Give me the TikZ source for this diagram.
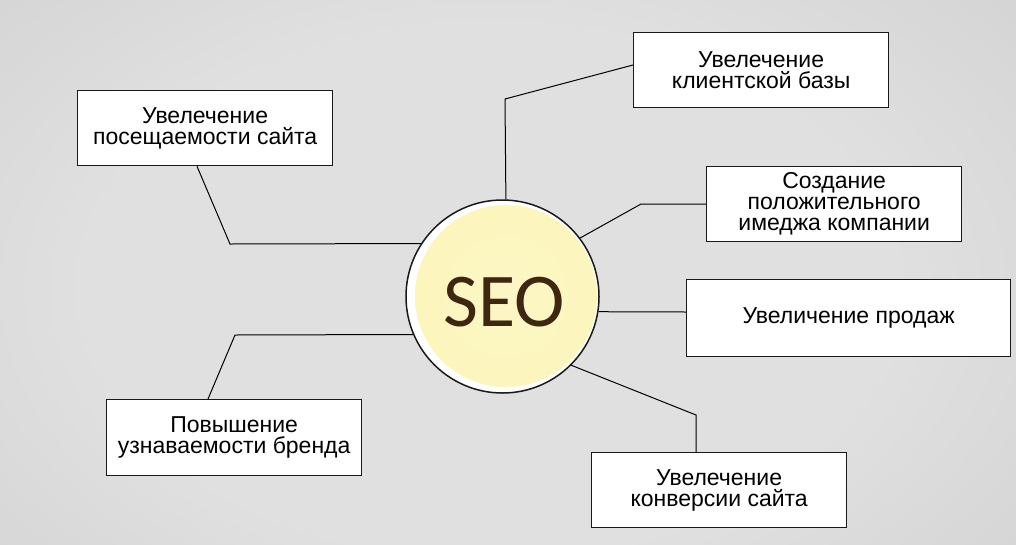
\documentclass[tikz,border=0pt]{standalone}
\usepackage{fontspec}
\setmainfont{Liberation Sans}
\newfontfamily\seofont{Carlito}
\usetikzlibrary{calc}
\definecolor{bgin}{RGB}{224,224,225}
\definecolor{bgmid}{RGB}{202,202,203}
\definecolor{bgout}{RGB}{166,166,168}
\definecolor{seoY}{RGB}{252,245,188}
\definecolor{seoBrown}{RGB}{62,38,16}
\definecolor{edgec}{RGB}{25,25,25}
\pgfdeclareradialshading{bgshade}{\pgfpointorigin}{color(0bp)=(bgin); color(14bp)=(bgin); color(33bp)=(bgmid); color(50bp)=(bgout)}
\pgfdeclareradialshading{seoshade}{\pgfpointorigin}{color(0bp)=(seoY!85!white); color(25bp)=(seoY); color(44bp)=(seoY); color(48bp)=(seoY!45!white); color(50bp)=(white)}
\begin{document}
\begin{tikzpicture}[x=1pt,y=-1pt,
  box/.style={draw=edgec, line width=1.3pt, fill=white, inner sep=0pt, align=center,
    font=\fontsize{23}{21}\selectfont, anchor=north west},
  conn/.style={draw=black, line width=1pt}]
\useasboundingbox (0,0) rectangle (1016,544);
\begin{scope}
\clip (0,0) rectangle (1016,544);
\shade[shading=bgshade] (490,290) ellipse [x radius=720pt, y radius=470pt];
\end{scope}

% boxes
\node[box, minimum width=255pt, minimum height=75pt] (b1) at (77,90) {Увелечение\\посещаемости сайта};
\node[box, minimum width=255pt, minimum height=75pt] (b2) at (633,32) {Увелечение\\клиентской базы};
\node[box, minimum width=255pt, minimum height=75pt] (b3) at (706,166) {Создание\\положительного\\имеджа компании};
\node[box, minimum width=324pt, minimum height=77pt] (b4) at (686,279) {Увеличение продаж};
\node[box, minimum width=255pt, minimum height=75pt] (b5) at (591,452) {Увелечение\\конверсии сайта};
\node[box, minimum width=255pt, minimum height=76pt] (b6) at (106,399) {Повышение\\узнаваемости бренда};

% circle
\node[circle, draw=edgec, line width=1.5pt, fill=white, minimum size=193pt, inner sep=0pt] (seo) at (502.5,296.5) {};
\shade[shading=seoshade] (506,296) circle [radius=91pt];
\node[font=\seofont\fontsize{76}{76}\selectfont, text=seoBrown, anchor=base, inner sep=0pt] (seotext) at (504,326) {SEO};

% bend points
\coordinate (k1) at (230,244);
\coordinate (k2) at (505,99);
\coordinate (k3) at (641,204);
\coordinate (k5) at (696,415);
\coordinate (k6) at (235,335);

% connectors
\draw[conn] ($(b1.south west)+(120,0)$) -- (k1) -- (seo.147.2);
\draw[conn] ($(b2.north west)+(0,33)$) -- (k2) -- (seo.88.5);
\draw[conn] ($(b3.north west)+(0,38)$) -- (k3) -- (seo.37.5);
\draw[conn] ($(b4.north west)+(0,33)$) -- (seo.-9.2);
\draw[conn] ($(b5.north west)+(105,0)$) -- (k5) -- (seo.-45.8);
\draw[conn] ($(b6.north west)+(102,0)$) -- (k6) -- (seo.203.5);
\end{tikzpicture}
\end{document}
